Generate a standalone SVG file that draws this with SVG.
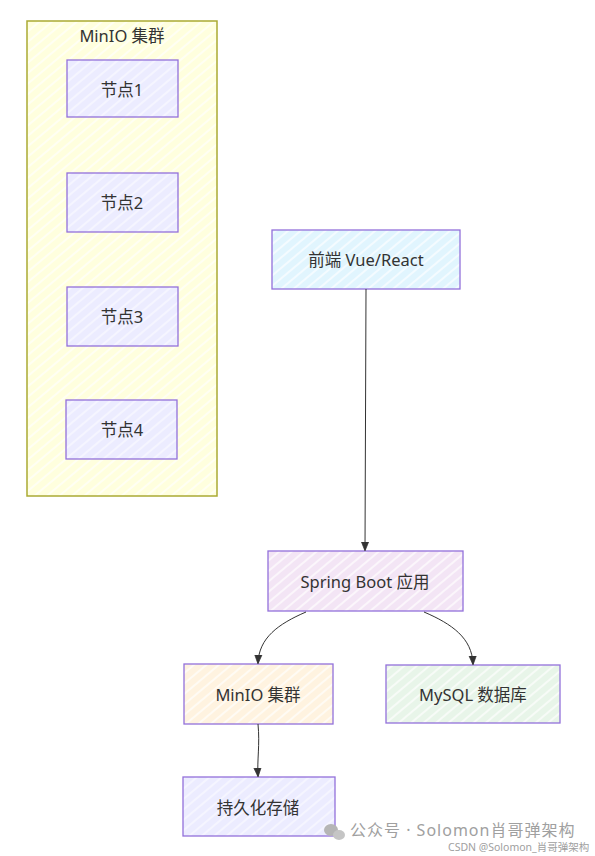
<svg xmlns="http://www.w3.org/2000/svg" width="595" height="856" viewBox="0 0 595 856">
<style>
  .lbl { font-family: "Noto Sans", "Noto Sans CJK SC", sans-serif; font-size: 16.5px; fill: #333; text-anchor: middle; dominant-baseline: central; }
  .box { stroke: #9370db; stroke-width: 1.3; }
  .edge { fill: none; stroke: #333; stroke-width: 1; }
  .wm { font-family: "Noto Sans", "Noto Sans CJK SC", sans-serif; fill: #a0a0a0; }
</style>
<defs>
  <pattern id="hY" width="8" height="8" patternUnits="userSpaceOnUse" patternTransform="rotate(-40)">
    <rect width="8" height="8" fill="#ffffde"/><line x1="0" y1="2" x2="8" y2="2" stroke="#ffffff" stroke-width="1.6" opacity="0.8"/>
  </pattern>
  <pattern id="hL" width="8" height="8" patternUnits="userSpaceOnUse" patternTransform="rotate(-40)">
    <rect width="8" height="8" fill="#ececff"/><line x1="0" y1="2" x2="8" y2="2" stroke="#fafaff" stroke-width="1.4" opacity="0.9"/>
  </pattern>
  <pattern id="hB" width="8" height="8" patternUnits="userSpaceOnUse" patternTransform="rotate(-40)">
    <rect width="8" height="8" fill="#e1f5fe"/><line x1="0" y1="2" x2="8" y2="2" stroke="#ffffff" stroke-width="1.6" opacity="0.8"/>
  </pattern>
  <pattern id="hP" width="8" height="8" patternUnits="userSpaceOnUse" patternTransform="rotate(-40)">
    <rect width="8" height="8" fill="#f3e5f5"/><line x1="0" y1="2" x2="8" y2="2" stroke="#ffffff" stroke-width="1.6" opacity="0.8"/>
  </pattern>
  <pattern id="hO" width="8" height="8" patternUnits="userSpaceOnUse" patternTransform="rotate(-40)">
    <rect width="8" height="8" fill="#fff3e0"/><line x1="0" y1="2" x2="8" y2="2" stroke="#ffffff" stroke-width="1.6" opacity="0.8"/>
  </pattern>
  <pattern id="hG" width="8" height="8" patternUnits="userSpaceOnUse" patternTransform="rotate(-40)">
    <rect width="8" height="8" fill="#e8f5e9"/><line x1="0" y1="2" x2="8" y2="2" stroke="#ffffff" stroke-width="1.6" opacity="0.8"/>
  </pattern>
  <marker id="arr" viewBox="0 0 10 10" refX="9" refY="5" markerWidth="9" markerHeight="9" orient="auto-start-reverse" markerUnits="userSpaceOnUse">
    <path d="M0,1 L10,5 L0,9 Z" fill="#333" stroke="#333" stroke-width="0.8"/>
  </marker>
</defs>

<g id="minio-cluster">
  <rect x="27" y="21" width="190" height="475" fill="url(#hY)" stroke="#aaaa33" stroke-width="1.5"/>
  <text class="lbl" x="122" y="35">MinIO 集群</text>
</g>
<g id="node1">
  <rect class="box" x="67" y="60" width="111" height="57" fill="url(#hL)"/>
  <text class="lbl" x="122" y="89">节点1</text>
</g>
<g id="node2">
  <rect class="box" x="67" y="173" width="111" height="59" fill="url(#hL)"/>
  <text class="lbl" x="122" y="202">节点2</text>
</g>
<g id="node3">
  <rect class="box" x="67" y="287" width="111" height="59" fill="url(#hL)"/>
  <text class="lbl" x="122" y="316">节点3</text>
</g>
<g id="node4">
  <rect class="box" x="66" y="400" width="111" height="59" fill="url(#hL)"/>
  <text class="lbl" x="122" y="429">节点4</text>
</g>
<g id="frontend">
  <rect class="box" x="272" y="230" width="188" height="59" fill="url(#hB)"/>
  <text class="lbl" x="366" y="259">前端 Vue/React</text>
</g>
<g id="springboot">
  <rect class="box" x="268" y="551" width="195" height="60" fill="url(#hP)"/>
  <text class="lbl" x="365" y="581">Spring Boot 应用</text>
</g>
<g id="minio">
  <rect class="box" x="184" y="664" width="149" height="60" fill="url(#hO)"/>
  <text class="lbl" x="258" y="694">MinIO 集群</text>
</g>
<g id="mysql">
  <rect class="box" x="386" y="665" width="174" height="58" fill="url(#hG)"/>
  <text class="lbl" x="473" y="694">MySQL 数据库</text>
</g>
<g id="storage">
  <rect class="box" x="183" y="777" width="152" height="59" fill="url(#hL)"/>
  <text class="lbl" x="258" y="807">持久化存储</text>
</g>

<g id="connectors">
  <path class="edge" d="M366,289 L365,550" marker-end="url(#arr)"/>
  <path class="edge" d="M306,612 C278,624 259,638 258,663" marker-end="url(#arr)"/>
  <path class="edge" d="M424,612 C452,624 472,638 473,664" marker-end="url(#arr)"/>
  <path class="edge" d="M258,724 C260,745 257,760 258,776" marker-end="url(#arr)"/>
</g>

<g id="watermark">
  <ellipse cx="331" cy="830" rx="7" ry="6" fill="#b5b5b5"/>
  <ellipse cx="339" cy="835" rx="6" ry="5" fill="#c5c5c5"/>
  <text class="wm" x="350" y="836" font-size="16" letter-spacing="1">公众号 · Solomon肖哥弹架构</text>
  <text class="wm" x="448" y="851" font-size="10.5" fill="#bbb">CSDN @Solomon_肖哥弹架构</text>
</g>
</svg>
